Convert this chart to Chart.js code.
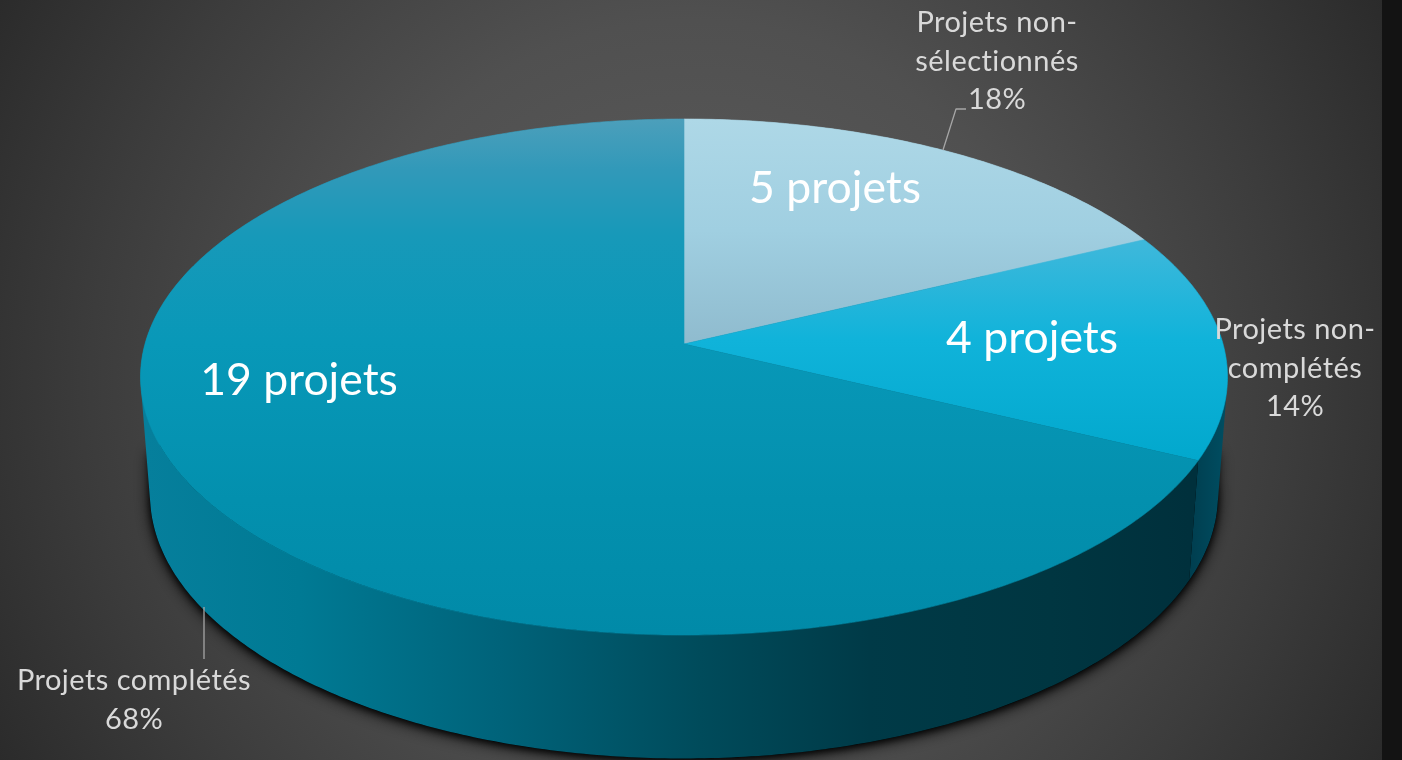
<!DOCTYPE html>
<html><head><meta charset="utf-8">
<style>html,body{margin:0;padding:0;background:#121212;overflow:hidden}canvas{display:block}</style>
<script src="https://cdn.jsdelivr.net/npm/chart.js@4"></script>
</head><body><canvas id="c" width="1402" height="760"></canvas>
<script>
const categories = ["Projets non-sélectionnés", "Projets non-complétés", "Projets complétés"];
const values = [5, 4, 19];
const countLabels = ["5 projets", "4 projets", "19 projets"];
const percentLabels = ["18%", "14%", "68%"];
const calloutLines = [["Projets non-", "sélectionnés", "18%"], ["Projets non-", "complétés", "14%"], ["Projets complétés", "68%"]];

const FONT = 'Lato, Carlito, sans-serif';
// projective view of the pie disc
const V = {ax:684, ay:344, a:539, b:253.8, k:-0.128};
const BASE = {ax:684, ay:461, sx:0.9825, sy:1.022};
function rim(theta){
  const u=Math.sin(theta), v=-Math.cos(theta), w=1+V.k*v;
  return [V.a*u/w, V.b*v/w];
}
const topPt = t=>{const r=rim(t);return [V.ax+r[0],V.ay+r[1]];};
const basePt = t=>{const r=rim(t);return [BASE.ax+BASE.sx*r[0],BASE.ay+BASE.sy*r[1]];};

const topStops = [
  [[119,'#aed8e7'],[230,'#a0cfe1'],[344,'#8fbbce']],
  [[240,'#3fb8db'],[340,'#10b3da'],[460,'#02a8cd']],
  [[119,'#4c9fbb'],[170,'#3199b9'],[235,'#1799b9'],[344,'#0898b8'],[500,'#0390ae'],[635,'#018aa8']]
];
const wallStops = [
  [[684,'#7fa8b8'],[1143,'#7fa8b8']],
  [[1188,'#003d4e'],[1227,'#004e62']],
  [[145,'#067f9c'],[300,'#007a94'],[500,'#00637a'],[700,'#004b5b'],[870,'#003a47'],[1050,'#003641'],[1190,'#00303c']]
];

function gradient(ctx, stops, horizontal){
  const lo=stops[0][0], hi=stops[stops.length-1][0];
  const g = horizontal ? ctx.createLinearGradient(lo,0,hi,0) : ctx.createLinearGradient(0,lo,0,hi);
  stops.forEach(s=>g.addColorStop((s[0]-lo)/(hi-lo),s[1]));
  return g;
}
function wallPath(ctx,s,e){
  const n=Math.ceil((e-s)*90);
  ctx.beginPath();
  for(let i=0;i<n;i++){
    const t0=s+(e-s)*i/n, t1=s+(e-s)*(i+1)/n;
    const a=topPt(t0),b=topPt(t1),c=basePt(t1),d=basePt(t0);
    // keep a constant winding so overlapping strips never cancel
    const area=(b[0]-a[0])*(c[1]-a[1])-(b[1]-a[1])*(c[0]-a[0]);
    const q=area>=0?[a,b,c,d]:[d,c,b,a];
    ctx.moveTo(q[0][0],q[0][1]);
    q.slice(1).forEach(p=>ctx.lineTo(p[0],p[1]));
    ctx.closePath();
  }
}
class Arc3D extends Chart.ArcElement {
  drawWall(ctx){
    wallPath(ctx,this.startAngle+Math.PI/2,this.endAngle+Math.PI/2);
    ctx.fillStyle=gradient(ctx,wallStops[this.$index],true);
    ctx.fill();
  }
  draw(ctx){
    const s=this.startAngle+Math.PI/2, e=this.endAngle+Math.PI/2, n=Math.ceil((e-s)*90);
    ctx.beginPath();
    ctx.moveTo(V.ax,V.ay);
    for(let i=0;i<=n;i++){const p=topPt(s+(e-s)*i/n);ctx.lineTo(p[0],p[1]);}
    ctx.closePath();
    const g=gradient(ctx,topStops[this.$index],false);
    ctx.fillStyle=g;ctx.fill();
    ctx.strokeStyle=g;ctx.lineWidth=0.6;ctx.lineJoin='round';ctx.stroke();
  }
}
Arc3D.id='arc3d';
Arc3D.defaults=Chart.ArcElement.defaults;
Arc3D.defaultRoutes=Chart.ArcElement.defaultRoutes;
class Pie3D extends Chart.PieController {}
Pie3D.id='pie3d';
Pie3D.defaults=Object.assign({},Chart.PieController.defaults,{dataElementType:'arc3d'});
Pie3D.overrides=Chart.PieController.overrides;
Chart.register(Arc3D,Pie3D);

const backdrop={
  id:'backdrop',
  beforeDraw(chart){
    const ctx=chart.ctx;
    const g=ctx.createRadialGradient(691,380,0,691,380,800);
    g.addColorStop(0,'#5e5e5e');g.addColorStop(0.45,'#505050');g.addColorStop(0.75,'#3c3c3c');g.addColorStop(1,'#2a2a2a');
    ctx.fillStyle=g;ctx.fillRect(0,0,1382,760);
    ctx.fillStyle='#131313';ctx.fillRect(1382,0,20,760);
  },
  beforeDatasetsDraw(chart){
    const ctx=chart.ctx, arcs=chart.getDatasetMeta(0).data;
    arcs.forEach((a,i)=>{a.$index=i;});
    // soft contact shadow: base outline plus a short side band that fades out upward
    ctx.save();
    ctx.shadowColor='rgba(0,0,0,0.9)';ctx.shadowBlur=16;ctx.shadowOffsetY=3;ctx.fillStyle='#000';
    ctx.beginPath();
    for(let i=0;i<=240;i++){const p=basePt(i/240*Math.PI*2);i?ctx.lineTo(p[0],p[1]):ctx.moveTo(p[0],p[1]);}
    ctx.closePath();
    ctx.moveTo(150,450);ctx.lineTo(1217,450);ctx.lineTo(1217,500);ctx.lineTo(150,500);ctx.closePath();
    ctx.fill();
    ctx.shadowBlur=7;ctx.shadowOffsetY=2;ctx.fill();
    ctx.restore();
    arcs.forEach(a=>a.drawWall(ctx));
  },
  afterDatasetsDraw(chart){
    const ctx=chart.ctx;
    ctx.strokeStyle='#a6a6a6';ctx.lineWidth=1.3;
    ctx.beginPath();ctx.moveTo(943,150);ctx.lineTo(956,109);ctx.lineTo(966,109);ctx.stroke();
    ctx.beginPath();ctx.moveTo(204,607);ctx.lineTo(204,659);ctx.stroke();
    ctx.textAlign='center';ctx.textBaseline='middle';
    ctx.fillStyle='#d9d9d9';ctx.font='29px '+FONT;ctx.letterSpacing='0.45px';
    const callouts=[[997,23],[1295,330],[134,681]];
    calloutLines.forEach((ls,i)=>ls.forEach((t,j)=>ctx.fillText(t,callouts[i][0],callouts[i][1]+j*38.5)));
    ctx.letterSpacing='0px';
    ctx.fillStyle='#ffffff';ctx.font='44.5px '+FONT;
    const big=[[835,189],[1032,339],[299,381]];
    countLabels.forEach((t,i)=>ctx.fillText(t,big[i][0],big[i][1]));
  }
};

new Chart(document.getElementById('c'),{
  type:'pie3d',
  data:{labels:categories,datasets:[{data:values}]},
  options:{responsive:false,animation:false,events:[],
    plugins:{legend:{display:false},tooltip:{enabled:false}}},
  plugins:[backdrop]
});
</script></body></html>
